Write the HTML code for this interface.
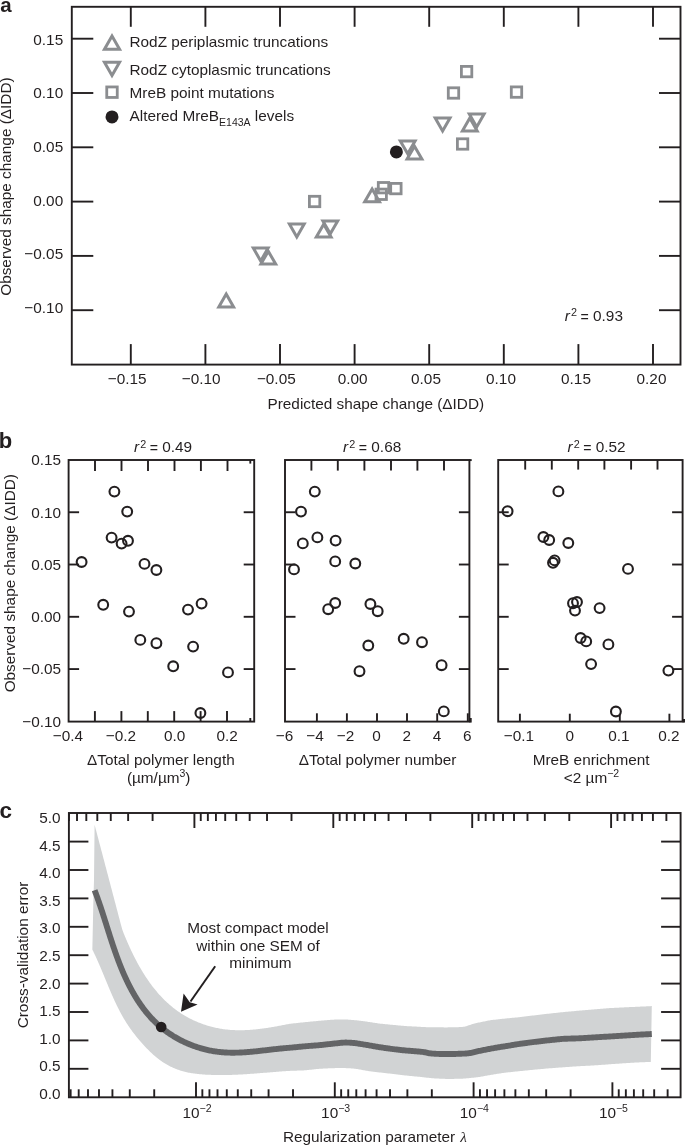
<!DOCTYPE html>
<html><head><meta charset="utf-8"><title>Figure</title>
<style>html,body{margin:0;padding:0;background:#fff;width:685px;height:1146px;overflow:hidden}svg{display:block}</style>
</head><body>
<svg width="685" height="1146" viewBox="0 0 685 1146" font-family="'Liberation Sans', Arial, Helvetica, sans-serif" fill="#231f20">
<text x="0.30" y="11.60" text-anchor="start" font-size="20.5" font-weight="bold">a</text>
<rect x="71.8" y="6.8" width="608.7" height="357.8" fill="none" stroke="#231f20" stroke-width="1.9"/>
<line x1="130.80" y1="364.60" x2="130.80" y2="344.10" stroke="#231f20" stroke-width="1.9"/>
<line x1="130.80" y1="6.80" x2="130.80" y2="26.80" stroke="#231f20" stroke-width="1.9"/>
<line x1="205.40" y1="364.60" x2="205.40" y2="344.10" stroke="#231f20" stroke-width="1.9"/>
<line x1="205.40" y1="6.80" x2="205.40" y2="26.80" stroke="#231f20" stroke-width="1.9"/>
<line x1="280.00" y1="364.60" x2="280.00" y2="344.10" stroke="#231f20" stroke-width="1.9"/>
<line x1="280.00" y1="6.80" x2="280.00" y2="26.80" stroke="#231f20" stroke-width="1.9"/>
<line x1="354.60" y1="364.60" x2="354.60" y2="344.10" stroke="#231f20" stroke-width="1.9"/>
<line x1="354.60" y1="6.80" x2="354.60" y2="26.80" stroke="#231f20" stroke-width="1.9"/>
<line x1="429.20" y1="364.60" x2="429.20" y2="344.10" stroke="#231f20" stroke-width="1.9"/>
<line x1="429.20" y1="6.80" x2="429.20" y2="26.80" stroke="#231f20" stroke-width="1.9"/>
<line x1="503.80" y1="364.60" x2="503.80" y2="344.10" stroke="#231f20" stroke-width="1.9"/>
<line x1="503.80" y1="6.80" x2="503.80" y2="26.80" stroke="#231f20" stroke-width="1.9"/>
<line x1="578.40" y1="364.60" x2="578.40" y2="344.10" stroke="#231f20" stroke-width="1.9"/>
<line x1="578.40" y1="6.80" x2="578.40" y2="26.80" stroke="#231f20" stroke-width="1.9"/>
<line x1="653.00" y1="364.60" x2="653.00" y2="344.10" stroke="#231f20" stroke-width="1.9"/>
<line x1="653.00" y1="6.80" x2="653.00" y2="26.80" stroke="#231f20" stroke-width="1.9"/>
<line x1="71.80" y1="38.70" x2="93.30" y2="38.70" stroke="#231f20" stroke-width="1.9"/>
<line x1="659.00" y1="38.70" x2="680.50" y2="38.70" stroke="#231f20" stroke-width="1.9"/>
<text x="63.20" y="44.60" text-anchor="end" font-size="15.35" >0.15</text>
<line x1="71.80" y1="93.00" x2="93.30" y2="93.00" stroke="#231f20" stroke-width="1.9"/>
<line x1="659.00" y1="93.00" x2="680.50" y2="93.00" stroke="#231f20" stroke-width="1.9"/>
<text x="63.20" y="98.20" text-anchor="end" font-size="15.35" >0.10</text>
<line x1="71.80" y1="147.30" x2="93.30" y2="147.30" stroke="#231f20" stroke-width="1.9"/>
<line x1="659.00" y1="147.30" x2="680.50" y2="147.30" stroke="#231f20" stroke-width="1.9"/>
<text x="63.20" y="151.90" text-anchor="end" font-size="15.35" >0.05</text>
<line x1="71.80" y1="201.60" x2="93.30" y2="201.60" stroke="#231f20" stroke-width="1.9"/>
<line x1="659.00" y1="201.60" x2="680.50" y2="201.60" stroke="#231f20" stroke-width="1.9"/>
<text x="63.20" y="205.60" text-anchor="end" font-size="15.35" >0.00</text>
<line x1="71.80" y1="255.90" x2="93.30" y2="255.90" stroke="#231f20" stroke-width="1.9"/>
<line x1="659.00" y1="255.90" x2="680.50" y2="255.90" stroke="#231f20" stroke-width="1.9"/>
<text x="63.20" y="259.20" text-anchor="end" font-size="15.35" >−0.05</text>
<line x1="71.80" y1="310.20" x2="93.30" y2="310.20" stroke="#231f20" stroke-width="1.9"/>
<line x1="659.00" y1="310.20" x2="680.50" y2="310.20" stroke="#231f20" stroke-width="1.9"/>
<text x="63.20" y="312.50" text-anchor="end" font-size="15.35" >−0.10</text>
<text x="127.20" y="383.60" text-anchor="middle" font-size="15.35" >−0.15</text>
<text x="201.20" y="383.60" text-anchor="middle" font-size="15.35" >−0.10</text>
<text x="276.30" y="383.60" text-anchor="middle" font-size="15.35" >−0.05</text>
<text x="352.70" y="383.60" text-anchor="middle" font-size="15.35" >0.00</text>
<text x="426.00" y="383.60" text-anchor="middle" font-size="15.35" >0.05</text>
<text x="501.00" y="383.60" text-anchor="middle" font-size="15.35" >0.10</text>
<text x="576.00" y="383.60" text-anchor="middle" font-size="15.35" >0.15</text>
<text x="651.50" y="383.60" text-anchor="middle" font-size="15.35" >0.20</text>
<text x="375.80" y="408.50" text-anchor="middle" font-size="15.35" >Predicted shape change (ΔIDD)</text>
<text transform="translate(11.3,186.6) rotate(-90)" text-anchor="middle" font-size="15.35">Observed shape change (ΔIDD)</text>
<text x="563.0" y="320.7" font-size="15.35"><tspan font-style="italic" dx="1.7">r</tspan><tspan font-size="10.8" dx="1.2" dy="-4.4">2</tspan><tspan dy="4.4"> </tspan><tspan font-size="14.2" dx="-0.8" dy="0.9">=</tspan><tspan dy="-0.9"> 0.93</tspan></text>
<rect x="309.40" y="196.30" width="10.40" height="10.40" fill="none" stroke="#8b8d90" stroke-width="2.8"/>
<rect x="378.30" y="182.50" width="10.40" height="10.40" fill="none" stroke="#8b8d90" stroke-width="2.8"/>
<rect x="390.70" y="183.40" width="10.40" height="10.40" fill="none" stroke="#8b8d90" stroke-width="2.8"/>
<rect x="376.00" y="189.10" width="10.40" height="10.40" fill="none" stroke="#8b8d90" stroke-width="2.8"/>
<rect x="457.40" y="138.80" width="10.40" height="10.40" fill="none" stroke="#8b8d90" stroke-width="2.8"/>
<rect x="448.30" y="87.80" width="10.40" height="10.40" fill="none" stroke="#8b8d90" stroke-width="2.8"/>
<rect x="461.40" y="66.40" width="10.40" height="10.40" fill="none" stroke="#8b8d90" stroke-width="2.8"/>
<rect x="511.30" y="86.90" width="10.40" height="10.40" fill="none" stroke="#8b8d90" stroke-width="2.8"/>
<polygon points="260.70,260.92 268.10,248.10 253.30,248.10" fill="none" stroke="#8b8d90" stroke-width="3.0" stroke-linejoin="miter" stroke-miterlimit="10"/>
<polygon points="296.80,236.92 304.20,224.10 289.40,224.10" fill="none" stroke="#8b8d90" stroke-width="3.0" stroke-linejoin="miter" stroke-miterlimit="10"/>
<polygon points="330.30,233.72 337.70,220.90 322.90,220.90" fill="none" stroke="#8b8d90" stroke-width="3.0" stroke-linejoin="miter" stroke-miterlimit="10"/>
<polygon points="407.70,153.72 415.10,140.90 400.30,140.90" fill="none" stroke="#8b8d90" stroke-width="3.0" stroke-linejoin="miter" stroke-miterlimit="10"/>
<polygon points="442.60,130.92 450.00,118.10 435.20,118.10" fill="none" stroke="#8b8d90" stroke-width="3.0" stroke-linejoin="miter" stroke-miterlimit="10"/>
<polygon points="476.70,126.92 484.10,114.10 469.30,114.10" fill="none" stroke="#8b8d90" stroke-width="3.0" stroke-linejoin="miter" stroke-miterlimit="10"/>
<polygon points="226.20,294.08 233.60,306.90 218.80,306.90" fill="none" stroke="#8b8d90" stroke-width="3.0" stroke-linejoin="miter" stroke-miterlimit="10"/>
<polygon points="268.30,251.28 275.70,264.10 260.90,264.10" fill="none" stroke="#8b8d90" stroke-width="3.0" stroke-linejoin="miter" stroke-miterlimit="10"/>
<polygon points="323.70,224.28 331.10,237.10 316.30,237.10" fill="none" stroke="#8b8d90" stroke-width="3.0" stroke-linejoin="miter" stroke-miterlimit="10"/>
<polygon points="372.10,188.88 379.50,201.70 364.70,201.70" fill="none" stroke="#8b8d90" stroke-width="3.0" stroke-linejoin="miter" stroke-miterlimit="10"/>
<polygon points="414.50,146.28 421.90,159.10 407.10,159.10" fill="none" stroke="#8b8d90" stroke-width="3.0" stroke-linejoin="miter" stroke-miterlimit="10"/>
<polygon points="469.80,118.08 477.20,130.90 462.40,130.90" fill="none" stroke="#8b8d90" stroke-width="3.0" stroke-linejoin="miter" stroke-miterlimit="10"/>
<circle cx="396.4" cy="151.9" r="6.5" fill="#231f20"/>
<polygon points="112.00,36.12 119.55,49.20 104.45,49.20" fill="none" stroke="#8b8d90" stroke-width="3.0" stroke-linejoin="miter" stroke-miterlimit="10"/>
<polygon points="112.00,75.38 119.55,62.30 104.45,62.30" fill="none" stroke="#8b8d90" stroke-width="3.0" stroke-linejoin="miter" stroke-miterlimit="10"/>
<rect x="106.75" y="86.95" width="10.50" height="10.50" fill="none" stroke="#8b8d90" stroke-width="2.8"/>
<circle cx="112" cy="116.9" r="6.5" fill="#231f20"/>
<text x="129.50" y="47.00" text-anchor="start" font-size="15.35" >RodZ periplasmic truncations</text>
<text x="129.50" y="75.00" text-anchor="start" font-size="15.35" >RodZ cytoplasmic truncations</text>
<text x="129.50" y="97.80" text-anchor="start" font-size="15.35" >MreB point mutations</text>
<text x="129.5" y="121.2" font-size="15.35">Altered MreB<tspan font-size="10.5" dy="4.5">E143A</tspan><tspan dy="-4.5"> levels</tspan></text>
<text x="-1.30" y="447.80" text-anchor="start" font-size="22" font-weight="bold">b</text>
<rect x="68.6" y="460.0" width="185.60" height="261.60" fill="none" stroke="#231f20" stroke-width="1.9"/>
<line x1="94.90" y1="721.60" x2="94.90" y2="711.10" stroke="#231f20" stroke-width="1.9"/>
<line x1="121.40" y1="721.60" x2="121.40" y2="711.10" stroke="#231f20" stroke-width="1.9"/>
<line x1="147.80" y1="721.60" x2="147.80" y2="711.10" stroke="#231f20" stroke-width="1.9"/>
<line x1="174.20" y1="721.60" x2="174.20" y2="711.10" stroke="#231f20" stroke-width="1.9"/>
<line x1="200.60" y1="721.60" x2="200.60" y2="711.10" stroke="#231f20" stroke-width="1.9"/>
<line x1="227.00" y1="721.60" x2="227.00" y2="711.10" stroke="#231f20" stroke-width="1.9"/>
<line x1="95.00" y1="460.00" x2="95.00" y2="471.00" stroke="#231f20" stroke-width="1.9"/>
<line x1="121.50" y1="460.00" x2="121.50" y2="471.00" stroke="#231f20" stroke-width="1.9"/>
<line x1="148.00" y1="460.00" x2="148.00" y2="471.00" stroke="#231f20" stroke-width="1.9"/>
<line x1="174.50" y1="460.00" x2="174.50" y2="471.00" stroke="#231f20" stroke-width="1.9"/>
<line x1="200.90" y1="460.00" x2="200.90" y2="471.00" stroke="#231f20" stroke-width="1.9"/>
<line x1="227.50" y1="460.00" x2="227.50" y2="471.00" stroke="#231f20" stroke-width="1.9"/>
<line x1="68.60" y1="512.24" x2="79.10" y2="512.24" stroke="#231f20" stroke-width="1.9"/>
<line x1="243.70" y1="512.24" x2="254.20" y2="512.24" stroke="#231f20" stroke-width="1.9"/>
<line x1="68.60" y1="564.52" x2="79.10" y2="564.52" stroke="#231f20" stroke-width="1.9"/>
<line x1="243.70" y1="564.52" x2="254.20" y2="564.52" stroke="#231f20" stroke-width="1.9"/>
<line x1="68.60" y1="616.80" x2="79.10" y2="616.80" stroke="#231f20" stroke-width="1.9"/>
<line x1="243.70" y1="616.80" x2="254.20" y2="616.80" stroke="#231f20" stroke-width="1.9"/>
<line x1="68.60" y1="669.08" x2="79.10" y2="669.08" stroke="#231f20" stroke-width="1.9"/>
<line x1="243.70" y1="669.08" x2="254.20" y2="669.08" stroke="#231f20" stroke-width="1.9"/>
<text x="68.00" y="741.00" text-anchor="middle" font-size="15.35" >−0.4</text>
<text x="121.00" y="741.00" text-anchor="middle" font-size="15.35" >−0.2</text>
<text x="174.60" y="741.00" text-anchor="middle" font-size="15.35" >0.0</text>
<text x="227.20" y="741.00" text-anchor="middle" font-size="15.35" >0.2</text>
<text x="161.3" y="452.0" text-anchor="middle" font-size="15.35"><tspan font-style="italic" dx="1.7">r</tspan><tspan font-size="10.8" dx="1.2" dy="-4.4">2</tspan><tspan dy="4.4"> </tspan><tspan font-size="14.2" dx="-0.8" dy="0.9">=</tspan><tspan dy="-0.9"> 0.49</tspan></text>
<text x="160.90" y="765.10" text-anchor="middle" font-size="15.35" >ΔTotal polymer length</text>
<text x="158.70" y="782.50" text-anchor="middle" font-size="15.35" >(µm/µm<tspan font-size='10.5' dy='-6'>3</tspan><tspan dy='6'>)</tspan></text>
<rect x="285.0" y="460.0" width="184.40" height="261.60" fill="none" stroke="#231f20" stroke-width="1.9"/>
<line x1="316.90" y1="721.60" x2="316.90" y2="713.30" stroke="#231f20" stroke-width="1.9"/>
<line x1="346.90" y1="721.60" x2="346.90" y2="713.30" stroke="#231f20" stroke-width="1.9"/>
<line x1="377.00" y1="721.60" x2="377.00" y2="713.30" stroke="#231f20" stroke-width="1.9"/>
<line x1="407.00" y1="721.60" x2="407.00" y2="713.30" stroke="#231f20" stroke-width="1.9"/>
<line x1="437.20" y1="721.60" x2="437.20" y2="713.30" stroke="#231f20" stroke-width="1.9"/>
<line x1="467.80" y1="721.60" x2="467.80" y2="713.30" stroke="#231f20" stroke-width="1.9"/>
<line x1="311.40" y1="460.00" x2="311.40" y2="470.60" stroke="#231f20" stroke-width="1.9"/>
<line x1="337.80" y1="460.00" x2="337.80" y2="470.60" stroke="#231f20" stroke-width="1.9"/>
<line x1="364.40" y1="460.00" x2="364.40" y2="470.60" stroke="#231f20" stroke-width="1.9"/>
<line x1="391.00" y1="460.00" x2="391.00" y2="470.60" stroke="#231f20" stroke-width="1.9"/>
<line x1="417.40" y1="460.00" x2="417.40" y2="470.60" stroke="#231f20" stroke-width="1.9"/>
<line x1="444.00" y1="460.00" x2="444.00" y2="470.60" stroke="#231f20" stroke-width="1.9"/>
<line x1="285.00" y1="512.24" x2="295.50" y2="512.24" stroke="#231f20" stroke-width="1.9"/>
<line x1="458.90" y1="512.24" x2="469.40" y2="512.24" stroke="#231f20" stroke-width="1.9"/>
<line x1="285.00" y1="564.52" x2="295.50" y2="564.52" stroke="#231f20" stroke-width="1.9"/>
<line x1="458.90" y1="564.52" x2="469.40" y2="564.52" stroke="#231f20" stroke-width="1.9"/>
<line x1="285.00" y1="616.80" x2="295.50" y2="616.80" stroke="#231f20" stroke-width="1.9"/>
<line x1="458.90" y1="616.80" x2="469.40" y2="616.80" stroke="#231f20" stroke-width="1.9"/>
<line x1="285.00" y1="669.08" x2="295.50" y2="669.08" stroke="#231f20" stroke-width="1.9"/>
<line x1="458.90" y1="669.08" x2="469.40" y2="669.08" stroke="#231f20" stroke-width="1.9"/>
<text x="284.50" y="741.00" text-anchor="middle" font-size="15.35" >−6</text>
<text x="315.00" y="741.00" text-anchor="middle" font-size="15.35" >−4</text>
<text x="345.50" y="741.00" text-anchor="middle" font-size="15.35" >−2</text>
<text x="376.50" y="741.00" text-anchor="middle" font-size="15.35" >0</text>
<text x="406.80" y="741.00" text-anchor="middle" font-size="15.35" >2</text>
<text x="437.00" y="741.00" text-anchor="middle" font-size="15.35" >4</text>
<text x="467.20" y="741.00" text-anchor="middle" font-size="15.35" >6</text>
<text x="370.4" y="452.0" text-anchor="middle" font-size="15.35"><tspan font-style="italic" dx="1.7">r</tspan><tspan font-size="10.8" dx="1.2" dy="-4.4">2</tspan><tspan dy="4.4"> </tspan><tspan font-size="14.2" dx="-0.8" dy="0.9">=</tspan><tspan dy="-0.9"> 0.68</tspan></text>
<text x="377.60" y="765.10" text-anchor="middle" font-size="15.35" >ΔTotal polymer number</text>
<rect x="498.2" y="460.0" width="184.40" height="261.60" fill="none" stroke="#231f20" stroke-width="1.9"/>
<line x1="519.90" y1="721.60" x2="519.90" y2="713.70" stroke="#231f20" stroke-width="1.9"/>
<line x1="569.80" y1="721.60" x2="569.80" y2="713.70" stroke="#231f20" stroke-width="1.9"/>
<line x1="619.80" y1="721.60" x2="619.80" y2="713.70" stroke="#231f20" stroke-width="1.9"/>
<line x1="669.40" y1="721.60" x2="669.40" y2="713.70" stroke="#231f20" stroke-width="1.9"/>
<line x1="525.20" y1="460.00" x2="525.20" y2="469.60" stroke="#231f20" stroke-width="1.9"/>
<line x1="551.80" y1="460.00" x2="551.80" y2="469.60" stroke="#231f20" stroke-width="1.9"/>
<line x1="578.20" y1="460.00" x2="578.20" y2="469.60" stroke="#231f20" stroke-width="1.9"/>
<line x1="604.40" y1="460.00" x2="604.40" y2="469.60" stroke="#231f20" stroke-width="1.9"/>
<line x1="631.10" y1="460.00" x2="631.10" y2="469.60" stroke="#231f20" stroke-width="1.9"/>
<line x1="657.50" y1="460.00" x2="657.50" y2="469.60" stroke="#231f20" stroke-width="1.9"/>
<line x1="498.20" y1="512.24" x2="508.70" y2="512.24" stroke="#231f20" stroke-width="1.9"/>
<line x1="672.10" y1="512.24" x2="682.60" y2="512.24" stroke="#231f20" stroke-width="1.9"/>
<line x1="498.20" y1="564.52" x2="508.70" y2="564.52" stroke="#231f20" stroke-width="1.9"/>
<line x1="672.10" y1="564.52" x2="682.60" y2="564.52" stroke="#231f20" stroke-width="1.9"/>
<line x1="498.20" y1="616.80" x2="508.70" y2="616.80" stroke="#231f20" stroke-width="1.9"/>
<line x1="672.10" y1="616.80" x2="682.60" y2="616.80" stroke="#231f20" stroke-width="1.9"/>
<line x1="498.20" y1="669.08" x2="508.70" y2="669.08" stroke="#231f20" stroke-width="1.9"/>
<line x1="672.10" y1="669.08" x2="682.60" y2="669.08" stroke="#231f20" stroke-width="1.9"/>
<text x="519.00" y="741.00" text-anchor="middle" font-size="15.35" >−0.1</text>
<text x="569.70" y="741.00" text-anchor="middle" font-size="15.35" >0</text>
<text x="618.90" y="741.00" text-anchor="middle" font-size="15.35" >0.1</text>
<text x="669.00" y="741.00" text-anchor="middle" font-size="15.35" >0.2</text>
<text x="594.8" y="452.0" text-anchor="middle" font-size="15.35"><tspan font-style="italic" dx="1.7">r</tspan><tspan font-size="10.8" dx="1.2" dy="-4.4">2</tspan><tspan dy="4.4"> </tspan><tspan font-size="14.2" dx="-0.8" dy="0.9">=</tspan><tspan dy="-0.9"> 0.52</tspan></text>
<text x="591.10" y="764.70" text-anchor="middle" font-size="15.35" >MreB enrichment</text>
<text x="591.50" y="783.30" text-anchor="middle" font-size="15.35" >&lt;2 µm<tspan font-size='10.5' dy='-6'>−2</tspan></text>
<text x="61.00" y="465.36" text-anchor="end" font-size="15.35" >0.15</text>
<text x="61.00" y="517.64" text-anchor="end" font-size="15.35" >0.10</text>
<text x="61.00" y="569.92" text-anchor="end" font-size="15.35" >0.05</text>
<text x="61.00" y="622.20" text-anchor="end" font-size="15.35" >0.00</text>
<text x="61.00" y="674.48" text-anchor="end" font-size="15.35" >−0.05</text>
<text x="61.00" y="726.76" text-anchor="end" font-size="15.35" >−0.10</text>
<line x1="250.30" y1="460.00" x2="250.30" y2="463.60" stroke="#231f20" stroke-width="1.9"/>
<line x1="250.30" y1="721.60" x2="250.30" y2="718.00" stroke="#231f20" stroke-width="1.9"/>
<rect x="469.4" y="459.15" width="2.3" height="1.9" fill="#231f20"/>
<rect x="469.4" y="718.0" width="2.3" height="4.55" fill="#231f20"/>
<rect x="682.6" y="719.0" width="2.4" height="3.55" fill="#231f20"/>
<text transform="translate(15.4,583.2) rotate(-90)" text-anchor="middle" font-size="15.35">Observed shape change (ΔIDD)</text>
<circle cx="114.4" cy="491.6" r="4.9" fill="none" stroke="#231f20" stroke-width="2.1"/>
<circle cx="127.2" cy="511.6" r="4.9" fill="none" stroke="#231f20" stroke-width="2.1"/>
<circle cx="111.6" cy="537.6" r="4.9" fill="none" stroke="#231f20" stroke-width="2.1"/>
<circle cx="121.6" cy="543.6" r="4.9" fill="none" stroke="#231f20" stroke-width="2.1"/>
<circle cx="128" cy="540.8" r="4.9" fill="none" stroke="#231f20" stroke-width="2.1"/>
<circle cx="81.6" cy="562" r="4.9" fill="none" stroke="#231f20" stroke-width="2.1"/>
<circle cx="144.5" cy="563.9" r="4.9" fill="none" stroke="#231f20" stroke-width="2.1"/>
<circle cx="156.4" cy="570" r="4.9" fill="none" stroke="#231f20" stroke-width="2.1"/>
<circle cx="103.2" cy="604.8" r="4.9" fill="none" stroke="#231f20" stroke-width="2.1"/>
<circle cx="129" cy="611.6" r="4.9" fill="none" stroke="#231f20" stroke-width="2.1"/>
<circle cx="188" cy="609.6" r="4.9" fill="none" stroke="#231f20" stroke-width="2.1"/>
<circle cx="201.6" cy="603.6" r="4.9" fill="none" stroke="#231f20" stroke-width="2.1"/>
<circle cx="140.3" cy="639.9" r="4.9" fill="none" stroke="#231f20" stroke-width="2.1"/>
<circle cx="156.4" cy="643.2" r="4.9" fill="none" stroke="#231f20" stroke-width="2.1"/>
<circle cx="193.1" cy="646.6" r="4.9" fill="none" stroke="#231f20" stroke-width="2.1"/>
<circle cx="173.2" cy="666.3" r="4.9" fill="none" stroke="#231f20" stroke-width="2.1"/>
<circle cx="228" cy="672.4" r="4.9" fill="none" stroke="#231f20" stroke-width="2.1"/>
<circle cx="200.4" cy="713" r="4.9" fill="none" stroke="#231f20" stroke-width="2.1"/>
<circle cx="314.8" cy="491.6" r="4.9" fill="none" stroke="#231f20" stroke-width="2.1"/>
<circle cx="301" cy="511.6" r="4.9" fill="none" stroke="#231f20" stroke-width="2.1"/>
<circle cx="302.8" cy="543.4" r="4.9" fill="none" stroke="#231f20" stroke-width="2.1"/>
<circle cx="317.4" cy="537.4" r="4.9" fill="none" stroke="#231f20" stroke-width="2.1"/>
<circle cx="335.6" cy="540.6" r="4.9" fill="none" stroke="#231f20" stroke-width="2.1"/>
<circle cx="335.2" cy="561.4" r="4.9" fill="none" stroke="#231f20" stroke-width="2.1"/>
<circle cx="355.3" cy="563.5" r="4.9" fill="none" stroke="#231f20" stroke-width="2.1"/>
<circle cx="294" cy="569.4" r="4.9" fill="none" stroke="#231f20" stroke-width="2.1"/>
<circle cx="335.2" cy="603" r="4.9" fill="none" stroke="#231f20" stroke-width="2.1"/>
<circle cx="328.2" cy="609.2" r="4.9" fill="none" stroke="#231f20" stroke-width="2.1"/>
<circle cx="370.4" cy="604" r="4.9" fill="none" stroke="#231f20" stroke-width="2.1"/>
<circle cx="377.7" cy="611.2" r="4.9" fill="none" stroke="#231f20" stroke-width="2.1"/>
<circle cx="403.7" cy="638.8" r="4.9" fill="none" stroke="#231f20" stroke-width="2.1"/>
<circle cx="368.3" cy="645.5" r="4.9" fill="none" stroke="#231f20" stroke-width="2.1"/>
<circle cx="359.5" cy="671.2" r="4.9" fill="none" stroke="#231f20" stroke-width="2.1"/>
<circle cx="422" cy="642.2" r="4.9" fill="none" stroke="#231f20" stroke-width="2.1"/>
<circle cx="441.6" cy="665.2" r="4.9" fill="none" stroke="#231f20" stroke-width="2.1"/>
<circle cx="443.8" cy="711.4" r="4.9" fill="none" stroke="#231f20" stroke-width="2.1"/>
<circle cx="558.4" cy="491.4" r="4.9" fill="none" stroke="#231f20" stroke-width="2.1"/>
<circle cx="507.6" cy="511.2" r="4.9" fill="none" stroke="#231f20" stroke-width="2.1"/>
<circle cx="543.4" cy="537" r="4.9" fill="none" stroke="#231f20" stroke-width="2.1"/>
<circle cx="549.2" cy="540" r="4.9" fill="none" stroke="#231f20" stroke-width="2.1"/>
<circle cx="568.3" cy="543" r="4.9" fill="none" stroke="#231f20" stroke-width="2.1"/>
<circle cx="554.6" cy="560.4" r="4.9" fill="none" stroke="#231f20" stroke-width="2.1"/>
<circle cx="553" cy="562.8" r="4.9" fill="none" stroke="#231f20" stroke-width="2.1"/>
<circle cx="628" cy="568.9" r="4.9" fill="none" stroke="#231f20" stroke-width="2.1"/>
<circle cx="573" cy="603.2" r="4.9" fill="none" stroke="#231f20" stroke-width="2.1"/>
<circle cx="577" cy="602" r="4.9" fill="none" stroke="#231f20" stroke-width="2.1"/>
<circle cx="575" cy="610.6" r="4.9" fill="none" stroke="#231f20" stroke-width="2.1"/>
<circle cx="599.6" cy="608.1" r="4.9" fill="none" stroke="#231f20" stroke-width="2.1"/>
<circle cx="580.6" cy="638" r="4.9" fill="none" stroke="#231f20" stroke-width="2.1"/>
<circle cx="586.2" cy="641.4" r="4.9" fill="none" stroke="#231f20" stroke-width="2.1"/>
<circle cx="608.4" cy="644.4" r="4.9" fill="none" stroke="#231f20" stroke-width="2.1"/>
<circle cx="591.1" cy="664.1" r="4.9" fill="none" stroke="#231f20" stroke-width="2.1"/>
<circle cx="668.4" cy="670.6" r="4.9" fill="none" stroke="#231f20" stroke-width="2.1"/>
<circle cx="615.9" cy="711.5" r="4.9" fill="none" stroke="#231f20" stroke-width="2.1"/>
<text x="-0.60" y="817.80" text-anchor="start" font-size="22.5" font-weight="bold">c</text>
<path d="M94.60,824.80 L94.86,825.77 L95.11,826.73 L95.37,827.70 L95.62,828.67 L95.88,829.63 L96.13,830.60 L96.39,831.57 L96.64,832.54 L96.90,833.50 L97.15,834.47 L97.41,835.44 L97.66,836.40 L97.92,837.37 L98.17,838.34 L98.43,839.30 L98.68,840.27 L98.94,841.24 L99.19,842.20 L99.45,843.17 L99.70,844.14 L99.96,845.11 L100.21,846.07 L100.47,847.04 L100.72,848.01 L100.98,848.97 L101.23,849.94 L101.49,850.91 L101.74,851.87 L102.00,852.84 L102.25,853.81 L102.51,854.78 L102.76,855.74 L103.02,856.71 L103.27,857.68 L103.53,858.64 L103.78,859.61 L104.04,860.58 L104.29,861.54 L104.55,862.51 L104.80,863.48 L105.06,864.44 L105.31,865.41 L105.57,866.38 L105.82,867.35 L106.08,868.31 L106.33,869.28 L106.59,870.25 L106.84,871.21 L107.10,872.18 L107.35,873.15 L107.61,874.11 L107.86,875.08 L108.12,876.05 L108.37,877.01 L108.63,877.98 L108.88,878.95 L109.14,879.92 L109.39,880.88 L109.65,881.85 L109.90,882.82 L110.16,883.78 L110.41,884.75 L110.67,885.72 L110.92,886.68 L111.18,887.65 L111.43,888.62 L111.69,889.59 L111.94,890.55 L112.20,891.52 L112.45,892.49 L112.71,893.45 L112.96,894.42 L113.22,895.39 L113.47,896.35 L113.73,897.32 L113.98,898.29 L114.24,899.25 L114.49,900.22 L114.75,901.19 L115.00,902.16 L115.26,903.12 L115.51,904.09 L115.77,905.06 L116.02,906.02 L116.28,906.99 L116.53,907.96 L116.79,908.92 L117.04,909.89 L117.30,910.86 L117.55,911.82 L117.81,912.79 L118.06,913.76 L118.32,914.73 L118.57,915.69 L118.83,916.66 L119.08,917.63 L119.34,918.59 L119.59,919.56 L119.85,920.53 L120.10,921.49 L120.36,922.46 L120.61,923.43 L120.87,924.39 L121.12,925.36 L121.38,926.33 L121.65,927.29 L121.92,928.25 L122.21,929.21 L122.52,930.16 L122.85,931.10 L123.19,932.04 L123.55,932.97 L123.92,933.90 L124.29,934.83 L124.67,935.75 L125.05,936.67 L125.44,937.60 L125.82,938.52 L126.22,939.44 L126.61,940.36 L127.00,941.28 L127.40,942.19 L127.80,943.11 L128.21,944.02 L128.62,944.94 L129.03,945.85 L129.44,946.76 L129.85,947.67 L130.27,948.58 L130.70,949.48 L131.12,950.39 L131.55,951.29 L131.98,952.20 L132.42,953.10 L132.85,953.99 L133.30,954.89 L133.74,955.79 L134.19,956.68 L134.64,957.57 L135.10,958.46 L135.56,959.35 L136.02,960.24 L136.49,961.12 L136.96,962.00 L137.44,962.88 L137.92,963.76 L138.40,964.63 L138.89,965.51 L139.38,966.38 L139.87,967.25 L140.37,968.11 L140.88,968.98 L141.38,969.84 L141.90,970.70 L142.41,971.55 L142.94,972.41 L143.46,973.26 L143.99,974.10 L144.53,974.95 L145.07,975.79 L145.61,976.63 L146.16,977.46 L146.72,978.30 L147.28,979.12 L147.84,979.95 L148.41,980.77 L148.98,981.59 L149.56,982.41 L150.15,983.22 L150.74,984.02 L151.33,984.83 L151.93,985.63 L152.54,986.42 L153.15,987.21 L153.77,988.00 L154.39,988.78 L155.02,989.56 L155.65,990.34 L156.29,991.10 L156.93,991.87 L157.58,992.63 L158.24,993.38 L158.90,994.13 L159.57,994.88 L160.24,995.62 L160.92,996.35 L161.61,997.08 L162.30,997.80 L162.99,998.52 L163.70,999.23 L164.41,999.93 L165.12,1000.63 L165.84,1001.32 L166.57,1002.01 L167.30,1002.69 L168.04,1003.36 L168.79,1004.03 L169.54,1004.69 L170.30,1005.34 L171.06,1005.99 L171.83,1006.62 L172.60,1007.26 L173.39,1007.88 L174.17,1008.49 L174.97,1009.10 L175.77,1009.70 L176.57,1010.30 L177.38,1010.88 L178.20,1011.46 L179.02,1012.02 L179.85,1012.58 L180.68,1013.13 L181.52,1013.68 L182.37,1014.21 L183.22,1014.74 L184.07,1015.26 L184.93,1015.76 L185.80,1016.27 L186.67,1016.76 L187.54,1017.24 L188.42,1017.72 L189.31,1018.18 L190.20,1018.64 L191.09,1019.09 L191.99,1019.53 L192.89,1019.96 L193.79,1020.39 L194.70,1020.80 L195.62,1021.21 L196.53,1021.61 L197.45,1022.00 L198.38,1022.38 L199.31,1022.75 L200.24,1023.11 L201.17,1023.47 L202.11,1023.81 L203.05,1024.15 L204.00,1024.48 L204.94,1024.80 L205.89,1025.11 L206.85,1025.41 L207.80,1025.70 L208.76,1025.98 L209.72,1026.26 L210.69,1026.52 L211.65,1026.78 L212.62,1027.03 L213.59,1027.27 L214.57,1027.49 L215.54,1027.71 L216.52,1027.92 L217.50,1028.12 L218.48,1028.32 L219.46,1028.50 L220.45,1028.67 L221.43,1028.83 L222.42,1028.99 L223.41,1029.13 L224.40,1029.26 L225.39,1029.39 L226.39,1029.50 L227.38,1029.61 L228.38,1029.71 L229.37,1029.80 L230.37,1029.88 L231.36,1029.95 L232.36,1030.01 L233.36,1030.06 L234.36,1030.11 L235.36,1030.15 L236.36,1030.17 L237.36,1030.20 L238.36,1030.21 L239.36,1030.22 L240.36,1030.21 L241.36,1030.21 L242.36,1030.19 L243.36,1030.17 L244.36,1030.14 L245.35,1030.10 L246.35,1030.06 L247.35,1030.01 L248.35,1029.95 L249.35,1029.89 L250.35,1029.82 L251.34,1029.75 L252.34,1029.67 L253.34,1029.58 L254.33,1029.49 L255.33,1029.40 L256.32,1029.30 L257.32,1029.19 L258.31,1029.08 L259.30,1028.96 L260.30,1028.84 L261.29,1028.72 L262.28,1028.59 L263.27,1028.46 L264.26,1028.32 L265.25,1028.18 L266.24,1028.03 L267.23,1027.89 L268.22,1027.73 L269.21,1027.58 L270.19,1027.42 L271.18,1027.26 L272.17,1027.09 L273.15,1026.93 L274.14,1026.76 L275.12,1026.58 L276.11,1026.41 L277.09,1026.23 L278.07,1026.05 L279.06,1025.87 L280.04,1025.68 L281.02,1025.50 L282.01,1025.31 L282.99,1025.12 L283.97,1024.93 L284.95,1024.74 L285.93,1024.55 L286.92,1024.36 L287.90,1024.18 L288.88,1024.01 L289.87,1023.85 L290.86,1023.71 L291.85,1023.58 L292.84,1023.46 L293.83,1023.34 L294.83,1023.24 L295.82,1023.13 L296.82,1023.02 L297.81,1022.92 L298.80,1022.81 L299.80,1022.71 L300.79,1022.60 L301.79,1022.50 L302.78,1022.40 L303.78,1022.29 L304.77,1022.19 L305.77,1022.09 L306.76,1022.00 L307.76,1021.90 L308.75,1021.80 L309.75,1021.71 L310.74,1021.61 L311.74,1021.52 L312.73,1021.42 L313.73,1021.32 L314.73,1021.23 L315.72,1021.13 L316.72,1021.04 L317.71,1020.95 L318.71,1020.86 L319.70,1020.77 L320.70,1020.68 L321.70,1020.60 L322.69,1020.51 L323.69,1020.43 L324.69,1020.35 L325.68,1020.27 L326.68,1020.19 L327.68,1020.10 L328.67,1020.02 L329.67,1019.94 L330.67,1019.86 L331.66,1019.79 L332.66,1019.72 L333.66,1019.66 L334.66,1019.61 L335.66,1019.57 L336.66,1019.53 L337.65,1019.50 L338.65,1019.47 L339.65,1019.45 L340.65,1019.42 L341.65,1019.40 L342.65,1019.39 L343.65,1019.39 L344.65,1019.40 L345.65,1019.44 L346.64,1019.49 L347.64,1019.55 L348.64,1019.63 L349.63,1019.71 L350.63,1019.80 L351.63,1019.88 L352.62,1019.97 L353.62,1020.06 L354.61,1020.15 L355.61,1020.24 L356.61,1020.33 L357.60,1020.42 L358.60,1020.53 L359.59,1020.64 L360.58,1020.76 L361.57,1020.89 L362.56,1021.03 L363.55,1021.17 L364.54,1021.32 L365.53,1021.47 L366.52,1021.62 L367.51,1021.77 L368.50,1021.92 L369.48,1022.07 L370.47,1022.22 L371.46,1022.37 L372.45,1022.52 L373.44,1022.67 L374.43,1022.82 L375.42,1022.96 L376.41,1023.11 L377.40,1023.25 L378.39,1023.39 L379.38,1023.52 L380.37,1023.64 L381.36,1023.75 L382.36,1023.86 L383.35,1023.96 L384.35,1024.06 L385.34,1024.16 L386.34,1024.25 L387.33,1024.35 L388.33,1024.44 L389.32,1024.54 L390.32,1024.64 L391.31,1024.73 L392.31,1024.83 L393.30,1024.93 L394.30,1025.02 L395.30,1025.12 L396.29,1025.22 L397.29,1025.31 L398.28,1025.41 L399.28,1025.50 L400.27,1025.60 L401.27,1025.69 L402.26,1025.78 L403.26,1025.87 L404.26,1025.94 L405.25,1026.02 L406.25,1026.08 L407.25,1026.14 L408.25,1026.20 L409.25,1026.25 L410.25,1026.30 L411.24,1026.36 L412.24,1026.41 L413.24,1026.46 L414.24,1026.51 L415.24,1026.57 L416.24,1026.62 L417.24,1026.67 L418.23,1026.72 L419.23,1026.77 L420.23,1026.83 L421.23,1026.88 L422.23,1026.93 L423.23,1026.98 L424.23,1027.03 L425.22,1027.08 L426.22,1027.13 L427.22,1027.18 L428.22,1027.22 L429.22,1027.25 L430.22,1027.28 L431.22,1027.30 L432.22,1027.31 L433.22,1027.32 L434.22,1027.32 L435.22,1027.33 L436.22,1027.34 L437.22,1027.34 L438.22,1027.35 L439.22,1027.35 L440.22,1027.36 L441.22,1027.36 L442.22,1027.37 L443.22,1027.37 L444.22,1027.38 L445.22,1027.38 L446.22,1027.38 L447.22,1027.38 L448.22,1027.37 L449.22,1027.36 L450.22,1027.34 L451.22,1027.32 L452.22,1027.30 L453.22,1027.28 L454.22,1027.25 L455.22,1027.23 L456.22,1027.20 L457.22,1027.17 L458.22,1027.15 L459.21,1027.11 L460.21,1027.08 L461.21,1027.02 L462.20,1026.94 L463.18,1026.82 L464.15,1026.66 L465.12,1026.45 L466.08,1026.20 L467.03,1025.92 L467.98,1025.62 L468.93,1025.30 L469.88,1024.99 L470.83,1024.67 L471.78,1024.36 L472.73,1024.07 L473.69,1023.79 L474.65,1023.52 L475.62,1023.28 L476.59,1023.05 L477.57,1022.83 L478.54,1022.62 L479.52,1022.41 L480.50,1022.21 L481.48,1022.00 L482.46,1021.79 L483.44,1021.59 L484.41,1021.38 L485.39,1021.18 L486.37,1020.97 L487.35,1020.78 L488.33,1020.59 L489.32,1020.41 L490.30,1020.25 L491.29,1020.11 L492.28,1019.97 L493.27,1019.85 L494.27,1019.74 L495.26,1019.63 L496.25,1019.52 L497.25,1019.41 L498.24,1019.30 L499.24,1019.19 L500.23,1019.08 L501.22,1018.97 L502.22,1018.86 L503.21,1018.76 L504.21,1018.65 L505.20,1018.55 L506.20,1018.45 L507.19,1018.35 L508.19,1018.26 L509.18,1018.16 L510.18,1018.07 L511.17,1017.97 L512.17,1017.87 L513.16,1017.78 L514.16,1017.68 L515.16,1017.59 L516.15,1017.49 L517.15,1017.39 L518.14,1017.29 L519.13,1017.18 L520.13,1017.07 L521.12,1016.95 L522.11,1016.84 L523.11,1016.72 L524.10,1016.60 L525.09,1016.47 L526.08,1016.35 L527.08,1016.23 L528.07,1016.11 L529.06,1015.98 L530.05,1015.86 L531.05,1015.74 L532.04,1015.62 L533.03,1015.50 L534.03,1015.38 L535.02,1015.26 L536.01,1015.14 L537.00,1015.03 L538.00,1014.91 L538.99,1014.80 L539.98,1014.68 L540.98,1014.56 L541.97,1014.45 L542.96,1014.33 L543.96,1014.22 L544.95,1014.10 L545.94,1013.99 L546.94,1013.87 L547.93,1013.76 L548.93,1013.65 L549.92,1013.54 L550.91,1013.43 L551.91,1013.32 L552.90,1013.21 L553.89,1013.10 L554.89,1012.99 L555.88,1012.88 L556.88,1012.77 L557.87,1012.66 L558.87,1012.55 L559.86,1012.45 L560.85,1012.34 L561.85,1012.24 L562.84,1012.14 L563.84,1012.04 L564.83,1011.94 L565.83,1011.85 L566.83,1011.76 L567.82,1011.67 L568.82,1011.58 L569.81,1011.49 L570.81,1011.40 L571.81,1011.32 L572.80,1011.23 L573.80,1011.14 L574.79,1011.05 L575.79,1010.96 L576.79,1010.87 L577.78,1010.78 L578.78,1010.70 L579.77,1010.61 L580.77,1010.52 L581.77,1010.43 L582.76,1010.34 L583.76,1010.26 L584.75,1010.17 L585.75,1010.08 L586.75,1009.99 L587.74,1009.91 L588.74,1009.82 L589.74,1009.73 L590.73,1009.64 L591.73,1009.55 L592.72,1009.47 L593.72,1009.38 L594.72,1009.30 L595.71,1009.21 L596.71,1009.13 L597.71,1009.05 L598.70,1008.96 L599.70,1008.88 L600.70,1008.80 L601.69,1008.72 L602.69,1008.64 L603.69,1008.55 L604.68,1008.47 L605.68,1008.39 L606.68,1008.31 L607.67,1008.24 L608.67,1008.17 L609.67,1008.10 L610.67,1008.04 L611.66,1007.99 L612.66,1007.94 L613.66,1007.89 L614.66,1007.84 L615.66,1007.79 L616.66,1007.74 L617.66,1007.69 L618.66,1007.65 L619.66,1007.60 L620.65,1007.55 L621.65,1007.50 L622.65,1007.46 L623.65,1007.41 L624.65,1007.36 L625.65,1007.31 L626.65,1007.26 L627.65,1007.22 L628.64,1007.17 L629.64,1007.12 L630.64,1007.07 L631.64,1007.02 L632.64,1006.98 L633.64,1006.93 L634.64,1006.88 L635.64,1006.83 L636.64,1006.79 L637.63,1006.74 L638.63,1006.69 L639.63,1006.65 L640.63,1006.60 L641.63,1006.56 L642.63,1006.51 L643.63,1006.47 L644.63,1006.42 L645.62,1006.38 L646.62,1006.33 L647.60,1006.29 L648.57,1006.24 L649.52,1006.20 L650.45,1006.16 L651.35,1006.12 L651.80,1006.10 L650.80,1061.90 L650.80,1061.90 L649.80,1061.94 L648.80,1061.98 L647.81,1062.02 L646.81,1062.06 L645.81,1062.10 L644.81,1062.14 L643.81,1062.18 L642.81,1062.22 L641.81,1062.26 L640.81,1062.31 L639.81,1062.35 L638.82,1062.40 L637.82,1062.45 L636.82,1062.51 L635.82,1062.56 L634.82,1062.62 L633.82,1062.68 L632.83,1062.74 L631.83,1062.81 L630.83,1062.87 L629.83,1062.93 L628.83,1062.99 L627.83,1063.05 L626.84,1063.11 L625.84,1063.18 L624.84,1063.24 L623.84,1063.30 L622.84,1063.37 L621.85,1063.44 L620.85,1063.50 L619.85,1063.57 L618.85,1063.64 L617.86,1063.71 L616.86,1063.78 L615.86,1063.84 L614.86,1063.91 L613.87,1063.98 L612.87,1064.05 L611.87,1064.12 L610.87,1064.19 L609.88,1064.26 L608.88,1064.33 L607.88,1064.40 L606.88,1064.48 L605.89,1064.55 L604.89,1064.63 L603.89,1064.70 L602.89,1064.78 L601.90,1064.85 L600.90,1064.93 L599.90,1065.00 L598.91,1065.07 L597.91,1065.15 L596.91,1065.22 L595.91,1065.29 L594.92,1065.36 L593.92,1065.42 L592.92,1065.48 L591.92,1065.54 L590.92,1065.59 L589.92,1065.65 L588.93,1065.70 L587.93,1065.75 L586.93,1065.81 L585.93,1065.86 L584.93,1065.91 L583.93,1065.96 L582.93,1066.02 L581.94,1066.07 L580.94,1066.12 L579.94,1066.18 L578.94,1066.24 L577.94,1066.29 L576.94,1066.36 L575.95,1066.42 L574.95,1066.48 L573.95,1066.55 L572.95,1066.62 L571.95,1066.69 L570.96,1066.76 L569.96,1066.82 L568.96,1066.89 L567.96,1066.96 L566.97,1067.03 L565.97,1067.10 L564.97,1067.17 L563.97,1067.24 L562.98,1067.31 L561.98,1067.38 L560.98,1067.45 L559.98,1067.53 L558.99,1067.60 L557.99,1067.68 L556.99,1067.75 L556.00,1067.83 L555.00,1067.90 L554.00,1067.98 L553.00,1068.05 L552.01,1068.13 L551.01,1068.21 L550.01,1068.28 L549.02,1068.36 L548.02,1068.45 L547.02,1068.53 L546.03,1068.61 L545.03,1068.70 L544.03,1068.79 L543.04,1068.88 L542.04,1068.97 L541.05,1069.05 L540.05,1069.14 L539.05,1069.23 L538.06,1069.32 L537.06,1069.41 L536.07,1069.50 L535.07,1069.59 L534.08,1069.69 L533.08,1069.78 L532.08,1069.88 L531.09,1069.98 L530.09,1070.08 L529.10,1070.18 L528.10,1070.29 L527.11,1070.39 L526.12,1070.49 L525.12,1070.59 L524.13,1070.69 L523.13,1070.80 L522.14,1070.90 L521.14,1071.00 L520.15,1071.10 L519.15,1071.20 L518.16,1071.31 L517.16,1071.41 L516.17,1071.51 L515.17,1071.61 L514.18,1071.72 L513.18,1071.82 L512.19,1071.92 L511.19,1072.02 L510.20,1072.13 L509.20,1072.23 L508.21,1072.33 L507.22,1072.44 L506.22,1072.55 L505.23,1072.67 L504.24,1072.80 L503.25,1072.94 L502.26,1073.08 L501.27,1073.23 L500.28,1073.38 L499.29,1073.54 L498.31,1073.69 L497.32,1073.85 L496.33,1074.00 L495.34,1074.16 L494.36,1074.31 L493.37,1074.47 L492.38,1074.63 L491.39,1074.79 L490.41,1074.96 L489.42,1075.13 L488.44,1075.30 L487.45,1075.48 L486.47,1075.66 L485.49,1075.84 L484.50,1076.02 L483.52,1076.20 L482.54,1076.38 L481.55,1076.56 L480.57,1076.74 L479.58,1076.91 L478.60,1077.06 L477.61,1077.21 L476.62,1077.34 L475.63,1077.46 L474.63,1077.57 L473.64,1077.67 L472.64,1077.77 L471.65,1077.87 L470.65,1077.97 L469.66,1078.06 L468.66,1078.16 L467.67,1078.25 L466.67,1078.34 L465.67,1078.43 L464.68,1078.51 L463.68,1078.58 L462.68,1078.64 L461.69,1078.69 L460.69,1078.73 L459.69,1078.76 L458.69,1078.79 L457.69,1078.81 L456.69,1078.83 L455.69,1078.85 L454.69,1078.87 L453.69,1078.89 L452.69,1078.91 L451.69,1078.93 L450.69,1078.94 L449.69,1078.94 L448.69,1078.94 L447.69,1078.93 L446.69,1078.91 L445.69,1078.88 L444.69,1078.84 L443.69,1078.80 L442.70,1078.76 L441.70,1078.72 L440.70,1078.68 L439.70,1078.64 L438.70,1078.60 L437.70,1078.56 L436.70,1078.51 L435.70,1078.46 L434.70,1078.40 L433.71,1078.32 L432.71,1078.24 L431.72,1078.15 L430.72,1078.05 L429.73,1077.95 L428.73,1077.84 L427.74,1077.74 L426.74,1077.63 L425.75,1077.52 L424.76,1077.41 L423.76,1077.30 L422.77,1077.19 L421.77,1077.08 L420.78,1076.98 L419.79,1076.87 L418.79,1076.77 L417.80,1076.67 L416.80,1076.57 L415.81,1076.48 L414.81,1076.38 L413.81,1076.28 L412.82,1076.19 L411.82,1076.09 L410.83,1076.00 L409.83,1075.90 L408.84,1075.81 L407.84,1075.71 L406.85,1075.61 L405.85,1075.51 L404.86,1075.40 L403.86,1075.29 L402.87,1075.18 L401.88,1075.06 L400.89,1074.94 L399.89,1074.82 L398.90,1074.70 L397.91,1074.57 L396.92,1074.45 L395.92,1074.33 L394.93,1074.21 L393.94,1074.09 L392.95,1073.96 L391.95,1073.84 L390.96,1073.73 L389.97,1073.61 L388.97,1073.49 L387.98,1073.38 L386.99,1073.26 L385.99,1073.15 L385.00,1073.04 L384.00,1072.93 L383.01,1072.82 L382.02,1072.71 L381.02,1072.60 L380.03,1072.49 L379.04,1072.38 L378.04,1072.26 L377.05,1072.15 L376.05,1072.04 L375.06,1071.93 L374.07,1071.82 L373.07,1071.70 L372.08,1071.58 L371.09,1071.45 L370.10,1071.31 L369.11,1071.16 L368.13,1071.00 L367.14,1070.83 L366.16,1070.66 L365.17,1070.49 L364.19,1070.31 L363.20,1070.14 L362.22,1069.96 L361.23,1069.79 L360.25,1069.61 L359.26,1069.44 L358.28,1069.27 L357.29,1069.12 L356.30,1068.97 L355.31,1068.83 L354.32,1068.71 L353.33,1068.59 L352.33,1068.49 L351.34,1068.40 L350.34,1068.32 L349.35,1068.25 L348.35,1068.19 L347.35,1068.15 L346.35,1068.13 L345.35,1068.11 L344.35,1068.11 L343.35,1068.10 L342.35,1068.10 L341.35,1068.10 L340.35,1068.10 L339.35,1068.10 L338.35,1068.10 L337.35,1068.10 L336.35,1068.11 L335.35,1068.12 L334.35,1068.14 L333.35,1068.16 L332.36,1068.19 L331.36,1068.23 L330.36,1068.27 L329.36,1068.31 L328.36,1068.36 L327.36,1068.41 L326.36,1068.46 L325.36,1068.50 L324.36,1068.55 L323.37,1068.60 L322.37,1068.66 L321.37,1068.71 L320.37,1068.78 L319.37,1068.85 L318.38,1068.93 L317.38,1069.02 L316.39,1069.12 L315.39,1069.22 L314.40,1069.33 L313.40,1069.44 L312.41,1069.54 L311.42,1069.65 L310.42,1069.76 L309.43,1069.87 L308.43,1069.97 L307.44,1070.08 L306.44,1070.17 L305.45,1070.26 L304.45,1070.33 L303.45,1070.39 L302.46,1070.44 L301.46,1070.48 L300.46,1070.52 L299.46,1070.55 L298.46,1070.58 L297.46,1070.61 L296.46,1070.64 L295.46,1070.67 L294.46,1070.71 L293.46,1070.74 L292.46,1070.77 L291.46,1070.81 L290.47,1070.85 L289.47,1070.90 L288.47,1070.96 L287.47,1071.02 L286.47,1071.08 L285.47,1071.15 L284.48,1071.22 L283.48,1071.29 L282.48,1071.37 L281.49,1071.44 L280.49,1071.52 L279.49,1071.59 L278.49,1071.67 L277.50,1071.75 L276.50,1071.83 L275.50,1071.90 L274.51,1071.98 L273.51,1072.06 L272.51,1072.14 L271.52,1072.23 L270.52,1072.31 L269.52,1072.39 L268.53,1072.47 L267.53,1072.55 L266.53,1072.63 L265.54,1072.71 L264.54,1072.79 L263.54,1072.87 L262.55,1072.95 L261.55,1073.03 L260.55,1073.11 L259.56,1073.19 L258.56,1073.27 L257.56,1073.35 L256.56,1073.43 L255.57,1073.50 L254.57,1073.58 L253.57,1073.65 L252.58,1073.72 L251.58,1073.79 L250.58,1073.87 L249.58,1073.93 L248.59,1074.00 L247.59,1074.07 L246.59,1074.13 L245.59,1074.20 L244.59,1074.26 L243.60,1074.32 L242.60,1074.38 L241.60,1074.43 L240.60,1074.49 L239.60,1074.54 L238.60,1074.59 L237.60,1074.64 L236.61,1074.69 L235.61,1074.73 L234.61,1074.77 L233.61,1074.81 L232.61,1074.85 L231.61,1074.88 L230.61,1074.91 L229.61,1074.94 L228.61,1074.97 L227.61,1074.99 L226.61,1075.01 L225.61,1075.03 L224.61,1075.04 L223.61,1075.05 L222.61,1075.06 L221.61,1075.06 L220.61,1075.06 L219.61,1075.06 L218.61,1075.05 L217.61,1075.04 L216.61,1075.03 L215.61,1075.01 L214.61,1074.99 L213.61,1074.97 L212.61,1074.94 L211.61,1074.91 L210.61,1074.87 L209.62,1074.83 L208.62,1074.79 L207.62,1074.74 L206.62,1074.68 L205.62,1074.63 L204.62,1074.56 L203.63,1074.50 L202.63,1074.42 L201.63,1074.35 L200.63,1074.26 L199.64,1074.17 L198.64,1074.08 L197.65,1073.97 L196.66,1073.86 L195.66,1073.74 L194.67,1073.61 L193.68,1073.48 L192.69,1073.33 L191.70,1073.18 L190.72,1073.01 L189.73,1072.84 L188.75,1072.65 L187.77,1072.45 L186.80,1072.24 L185.82,1072.02 L184.85,1071.78 L183.88,1071.53 L182.92,1071.27 L181.96,1071.00 L181.00,1070.71 L180.05,1070.41 L179.10,1070.09 L178.15,1069.77 L177.21,1069.43 L176.28,1069.07 L175.35,1068.70 L174.43,1068.32 L173.51,1067.93 L172.59,1067.52 L171.69,1067.10 L170.79,1066.67 L169.89,1066.23 L169.00,1065.77 L168.12,1065.30 L167.25,1064.82 L166.38,1064.32 L165.52,1063.82 L164.66,1063.30 L163.82,1062.76 L162.98,1062.22 L162.15,1061.67 L161.32,1061.10 L160.51,1060.52 L159.70,1059.93 L158.90,1059.33 L158.11,1058.72 L157.32,1058.11 L156.55,1057.48 L155.78,1056.84 L155.01,1056.20 L154.26,1055.54 L153.51,1054.88 L152.76,1054.21 L152.02,1053.54 L151.29,1052.86 L150.57,1052.17 L149.85,1051.47 L149.14,1050.77 L148.43,1050.07 L147.72,1049.36 L147.02,1048.64 L146.33,1047.92 L145.64,1047.20 L144.96,1046.47 L144.28,1045.74 L143.60,1045.00 L142.93,1044.26 L142.26,1043.52 L141.59,1042.77 L140.93,1042.02 L140.27,1041.27 L139.62,1040.51 L138.97,1039.75 L138.33,1038.98 L137.69,1038.21 L137.06,1037.44 L136.43,1036.67 L135.80,1035.89 L135.18,1035.10 L134.56,1034.31 L133.95,1033.52 L133.34,1032.73 L132.74,1031.93 L132.15,1031.13 L131.56,1030.32 L130.97,1029.51 L130.39,1028.70 L129.81,1027.88 L129.25,1027.06 L128.68,1026.23 L128.12,1025.40 L127.57,1024.57 L127.02,1023.73 L126.48,1022.89 L125.95,1022.04 L125.42,1021.20 L124.90,1020.34 L124.38,1019.49 L123.87,1018.63 L123.36,1017.77 L122.86,1016.90 L122.37,1016.03 L121.88,1015.16 L121.40,1014.28 L120.92,1013.41 L120.44,1012.53 L119.97,1011.64 L119.51,1010.76 L119.05,1009.87 L118.59,1008.98 L118.14,1008.09 L117.69,1007.19 L117.25,1006.30 L116.81,1005.40 L116.38,1004.50 L115.94,1003.60 L115.52,1002.69 L115.09,1001.79 L114.67,1000.88 L114.25,999.97 L113.84,999.06 L113.43,998.15 L113.02,997.24 L112.61,996.33 L112.21,995.41 L111.80,994.49 L111.40,993.58 L111.01,992.66 L110.61,991.74 L110.22,990.82 L109.83,989.90 L109.44,988.98 L109.05,988.06 L108.66,987.14 L108.28,986.22 L107.89,985.29 L107.51,984.37 L107.12,983.45 L106.74,982.52 L106.36,981.60 L105.98,980.67 L105.60,979.75 L105.22,978.82 L104.84,977.90 L104.46,976.97 L104.08,976.05 L103.69,975.12 L103.31,974.20 L102.93,973.28 L102.55,972.35 L102.16,971.43 L101.78,970.51 L101.39,969.58 L101.00,968.66 L100.61,967.74 L100.22,966.82 L99.83,965.90 L99.44,964.98 L99.04,964.06 L98.64,963.15 L98.24,962.23 L97.84,961.32 L97.43,960.40 L97.02,959.49 L96.61,958.58 L96.20,957.67 L95.78,956.76 L95.36,955.85 L94.94,954.94 L94.52,954.04 L94.09,953.14 L93.65,952.23 L93.22,951.33 L92.78,950.43 L92.34,949.54 L93.40,900.00 L94.00,880.00 Z" fill="#d1d3d4"/>
<path d="M94.63,890.30 L94.98,891.24 L95.33,892.17 L95.68,893.11 L96.03,894.05 L96.38,894.98 L96.72,895.92 L97.06,896.86 L97.40,897.80 L97.74,898.75 L98.07,899.69 L98.40,900.63 L98.73,901.58 L99.06,902.52 L99.38,903.47 L99.71,904.41 L100.03,905.36 L100.35,906.31 L100.67,907.26 L100.99,908.20 L101.30,909.15 L101.61,910.10 L101.93,911.05 L102.24,912.00 L102.55,912.95 L102.86,913.90 L103.17,914.86 L103.47,915.81 L103.78,916.76 L104.08,917.71 L104.39,918.66 L104.69,919.62 L105.00,920.57 L105.30,921.52 L105.60,922.48 L105.90,923.43 L106.20,924.38 L106.51,925.34 L106.81,926.29 L107.11,927.24 L107.41,928.20 L107.71,929.15 L108.02,930.10 L108.32,931.06 L108.62,932.01 L108.92,932.96 L109.23,933.91 L109.53,934.87 L109.84,935.82 L110.14,936.77 L110.45,937.72 L110.76,938.67 L111.07,939.63 L111.38,940.58 L111.69,941.53 L112.00,942.48 L112.31,943.43 L112.63,944.38 L112.94,945.32 L113.26,946.27 L113.58,947.22 L113.90,948.17 L114.23,949.11 L114.55,950.06 L114.88,951.00 L115.21,951.95 L115.54,952.89 L115.87,953.83 L116.21,954.78 L116.55,955.72 L116.89,956.66 L117.23,957.60 L117.58,958.54 L117.92,959.47 L118.28,960.41 L118.63,961.34 L118.99,962.28 L119.34,963.21 L119.71,964.14 L120.07,965.07 L120.44,966.00 L120.81,966.93 L121.19,967.86 L121.57,968.78 L121.95,969.71 L122.33,970.63 L122.72,971.55 L123.12,972.47 L123.51,973.39 L123.91,974.31 L124.32,975.22 L124.73,976.13 L125.14,977.05 L125.55,977.95 L125.97,978.86 L126.40,979.77 L126.83,980.67 L127.26,981.57 L127.69,982.47 L128.14,983.37 L128.58,984.26 L129.03,985.16 L129.49,986.05 L129.95,986.94 L130.41,987.82 L130.88,988.70 L131.35,989.59 L131.83,990.46 L132.31,991.34 L132.80,992.21 L133.30,993.08 L133.80,993.95 L134.30,994.81 L134.81,995.67 L135.32,996.53 L135.84,997.38 L136.37,998.23 L136.90,999.08 L137.43,999.93 L137.98,1000.77 L138.52,1001.60 L139.08,1002.43 L139.64,1003.26 L140.20,1004.09 L140.77,1004.91 L141.35,1005.73 L141.93,1006.54 L142.52,1007.35 L143.12,1008.15 L143.72,1008.95 L144.32,1009.74 L144.94,1010.53 L145.56,1011.32 L146.18,1012.10 L146.81,1012.87 L147.45,1013.64 L148.10,1014.41 L148.75,1015.16 L149.41,1015.92 L150.07,1016.66 L150.74,1017.41 L151.42,1018.14 L152.10,1018.87 L152.79,1019.59 L153.49,1020.31 L154.19,1021.02 L154.90,1021.72 L155.62,1022.42 L156.34,1023.11 L157.07,1023.79 L157.81,1024.47 L158.55,1025.14 L159.30,1025.80 L160.06,1026.46 L160.82,1027.10 L161.59,1027.74 L162.36,1028.37 L163.15,1029.00 L163.93,1029.61 L164.73,1030.22 L165.52,1030.82 L166.33,1031.41 L167.14,1032.00 L167.96,1032.58 L168.78,1033.15 L169.60,1033.71 L170.44,1034.26 L171.27,1034.81 L172.12,1035.35 L172.96,1035.88 L173.82,1036.40 L174.67,1036.92 L175.53,1037.42 L176.40,1037.92 L177.27,1038.41 L178.15,1038.90 L179.03,1039.37 L179.91,1039.84 L180.80,1040.30 L181.69,1040.75 L182.58,1041.20 L183.48,1041.63 L184.39,1042.06 L185.29,1042.48 L186.21,1042.89 L187.12,1043.30 L188.04,1043.69 L188.96,1044.08 L189.88,1044.46 L190.81,1044.83 L191.74,1045.19 L192.68,1045.55 L193.62,1045.90 L194.56,1046.23 L195.50,1046.56 L196.45,1046.89 L197.40,1047.20 L198.35,1047.51 L199.30,1047.80 L200.26,1048.09 L201.22,1048.37 L202.18,1048.64 L203.15,1048.91 L204.11,1049.16 L205.08,1049.41 L206.05,1049.64 L207.03,1049.87 L208.00,1050.09 L208.98,1050.30 L209.96,1050.51 L210.94,1050.70 L211.92,1050.88 L212.91,1051.06 L213.89,1051.23 L214.88,1051.38 L215.87,1051.53 L216.86,1051.67 L217.85,1051.80 L218.84,1051.92 L219.83,1052.03 L220.83,1052.13 L221.82,1052.23 L222.82,1052.31 L223.82,1052.39 L224.82,1052.45 L225.81,1052.51 L226.81,1052.56 L227.81,1052.60 L228.81,1052.64 L229.81,1052.66 L230.81,1052.68 L231.81,1052.69 L232.81,1052.70 L233.81,1052.69 L234.81,1052.69 L235.81,1052.67 L236.81,1052.65 L237.81,1052.62 L238.81,1052.59 L239.81,1052.55 L240.80,1052.50 L241.80,1052.45 L242.80,1052.40 L243.80,1052.34 L244.80,1052.27 L245.80,1052.20 L246.79,1052.13 L247.79,1052.05 L248.79,1051.97 L249.78,1051.88 L250.78,1051.80 L251.77,1051.70 L252.77,1051.61 L253.76,1051.51 L254.76,1051.41 L255.75,1051.31 L256.75,1051.21 L257.74,1051.10 L258.74,1050.99 L259.73,1050.88 L260.73,1050.77 L261.72,1050.66 L262.71,1050.54 L263.71,1050.43 L264.70,1050.32 L265.69,1050.20 L266.69,1050.08 L267.68,1049.97 L268.67,1049.85 L269.67,1049.74 L270.66,1049.62 L271.65,1049.51 L272.65,1049.40 L273.64,1049.28 L274.63,1049.17 L275.63,1049.06 L276.62,1048.96 L277.62,1048.85 L278.61,1048.75 L279.61,1048.65 L280.60,1048.55 L281.60,1048.45 L282.59,1048.36 L283.59,1048.27 L284.58,1048.18 L285.58,1048.10 L286.58,1048.01 L287.57,1047.93 L288.57,1047.85 L289.57,1047.77 L290.56,1047.68 L291.56,1047.59 L292.55,1047.50 L293.55,1047.40 L294.54,1047.30 L295.54,1047.20 L296.53,1047.11 L297.53,1047.01 L298.52,1046.91 L299.52,1046.81 L300.52,1046.71 L301.51,1046.61 L302.51,1046.52 L303.50,1046.42 L304.50,1046.33 L305.49,1046.25 L306.49,1046.17 L307.49,1046.09 L308.48,1046.01 L309.48,1045.93 L310.48,1045.86 L311.48,1045.78 L312.47,1045.71 L313.47,1045.63 L314.47,1045.56 L315.46,1045.48 L316.46,1045.40 L317.46,1045.32 L318.45,1045.23 L319.45,1045.14 L320.44,1045.04 L321.44,1044.94 L322.43,1044.84 L323.43,1044.73 L324.42,1044.62 L325.42,1044.51 L326.41,1044.40 L327.40,1044.29 L328.40,1044.18 L329.39,1044.07 L330.38,1043.96 L331.38,1043.85 L332.37,1043.75 L333.37,1043.64 L334.36,1043.53 L335.36,1043.42 L336.35,1043.32 L337.34,1043.21 L338.34,1043.11 L339.33,1043.00 L340.33,1042.90 L341.32,1042.80 L342.32,1042.71 L343.31,1042.64 L344.31,1042.59 L345.30,1042.56 L346.30,1042.56 L347.30,1042.58 L348.30,1042.62 L349.29,1042.67 L350.29,1042.73 L351.29,1042.80 L352.29,1042.87 L353.28,1042.95 L354.28,1043.05 L355.27,1043.16 L356.26,1043.28 L357.25,1043.42 L358.24,1043.57 L359.22,1043.73 L360.21,1043.89 L361.20,1044.05 L362.18,1044.21 L363.17,1044.37 L364.16,1044.54 L365.14,1044.70 L366.13,1044.86 L367.12,1045.03 L368.10,1045.20 L369.09,1045.37 L370.07,1045.54 L371.06,1045.71 L372.04,1045.88 L373.03,1046.05 L374.01,1046.22 L375.00,1046.40 L375.98,1046.57 L376.97,1046.74 L377.96,1046.90 L378.94,1047.06 L379.93,1047.22 L380.92,1047.38 L381.91,1047.53 L382.90,1047.68 L383.88,1047.82 L384.87,1047.97 L385.86,1048.11 L386.85,1048.25 L387.84,1048.40 L388.83,1048.54 L389.82,1048.68 L390.81,1048.81 L391.81,1048.94 L392.80,1049.07 L393.79,1049.19 L394.78,1049.31 L395.78,1049.42 L396.77,1049.54 L397.76,1049.65 L398.76,1049.76 L399.75,1049.87 L400.74,1049.98 L401.74,1050.09 L402.73,1050.20 L403.73,1050.30 L404.72,1050.40 L405.72,1050.49 L406.71,1050.57 L407.71,1050.65 L408.71,1050.73 L409.70,1050.81 L410.70,1050.89 L411.70,1050.97 L412.70,1051.04 L413.69,1051.12 L414.69,1051.20 L415.69,1051.28 L416.68,1051.36 L417.68,1051.44 L418.68,1051.53 L419.67,1051.62 L420.67,1051.71 L421.66,1051.82 L422.65,1051.94 L423.63,1052.09 L424.61,1052.27 L425.58,1052.47 L426.55,1052.69 L427.52,1052.91 L428.50,1053.11 L429.47,1053.29 L430.46,1053.43 L431.45,1053.53 L432.44,1053.62 L433.43,1053.68 L434.43,1053.73 L435.43,1053.78 L436.43,1053.83 L437.43,1053.87 L438.43,1053.91 L439.43,1053.94 L440.43,1053.96 L441.43,1053.98 L442.42,1053.99 L443.42,1054.00 L444.42,1054.00 L445.42,1054.00 L446.42,1054.00 L447.42,1054.00 L448.42,1054.00 L449.42,1054.00 L450.42,1054.00 L451.42,1053.99 L452.42,1053.98 L453.42,1053.97 L454.42,1053.95 L455.42,1053.93 L456.42,1053.89 L457.42,1053.86 L458.42,1053.82 L459.42,1053.78 L460.42,1053.74 L461.42,1053.70 L462.42,1053.66 L463.42,1053.62 L464.42,1053.58 L465.41,1053.53 L466.41,1053.47 L467.40,1053.39 L468.39,1053.28 L469.38,1053.15 L470.36,1052.98 L471.34,1052.79 L472.31,1052.58 L473.29,1052.35 L474.26,1052.12 L475.23,1051.89 L476.21,1051.66 L477.18,1051.43 L478.15,1051.21 L479.13,1050.99 L480.11,1050.78 L481.09,1050.58 L482.07,1050.38 L483.05,1050.18 L484.03,1049.98 L485.01,1049.79 L485.99,1049.60 L486.97,1049.40 L487.95,1049.21 L488.93,1049.02 L489.91,1048.83 L490.90,1048.65 L491.88,1048.47 L492.86,1048.29 L493.85,1048.11 L494.83,1047.93 L495.82,1047.76 L496.80,1047.58 L497.79,1047.41 L498.77,1047.24 L499.76,1047.09 L500.75,1046.93 L501.74,1046.78 L502.73,1046.64 L503.71,1046.49 L504.70,1046.35 L505.69,1046.19 L506.68,1046.03 L507.66,1045.87 L508.65,1045.70 L509.64,1045.54 L510.62,1045.37 L511.61,1045.20 L512.59,1045.03 L513.58,1044.86 L514.57,1044.69 L515.55,1044.53 L516.54,1044.36 L517.52,1044.20 L518.51,1044.05 L519.50,1043.90 L520.49,1043.75 L521.48,1043.61 L522.47,1043.48 L523.46,1043.35 L524.45,1043.22 L525.45,1043.09 L526.44,1042.96 L527.43,1042.83 L528.42,1042.70 L529.41,1042.57 L530.40,1042.44 L531.40,1042.32 L532.39,1042.19 L533.38,1042.07 L534.37,1041.94 L535.36,1041.82 L536.36,1041.70 L537.35,1041.59 L538.34,1041.47 L539.34,1041.36 L540.33,1041.24 L541.32,1041.12 L542.32,1041.01 L543.31,1040.89 L544.30,1040.78 L545.30,1040.66 L546.29,1040.55 L547.28,1040.44 L548.28,1040.33 L549.27,1040.22 L550.27,1040.11 L551.26,1040.01 L552.26,1039.90 L553.25,1039.80 L554.25,1039.70 L555.24,1039.60 L556.23,1039.50 L557.23,1039.39 L558.22,1039.29 L559.22,1039.19 L560.21,1039.10 L561.21,1039.01 L562.21,1038.93 L563.20,1038.86 L564.20,1038.80 L565.20,1038.75 L566.20,1038.71 L567.20,1038.68 L568.20,1038.65 L569.20,1038.62 L570.20,1038.59 L571.20,1038.56 L572.20,1038.53 L573.19,1038.50 L574.19,1038.47 L575.19,1038.44 L576.19,1038.41 L577.19,1038.38 L578.19,1038.34 L579.19,1038.30 L580.19,1038.26 L581.19,1038.21 L582.19,1038.16 L583.19,1038.10 L584.18,1038.04 L585.18,1037.98 L586.18,1037.92 L587.18,1037.86 L588.18,1037.80 L589.17,1037.73 L590.17,1037.67 L591.17,1037.61 L592.17,1037.55 L593.17,1037.49 L594.16,1037.43 L595.16,1037.37 L596.16,1037.30 L597.16,1037.24 L598.16,1037.18 L599.16,1037.12 L600.15,1037.06 L601.15,1037.00 L602.15,1036.93 L603.15,1036.87 L604.15,1036.81 L605.14,1036.75 L606.14,1036.69 L607.14,1036.63 L608.14,1036.57 L609.14,1036.50 L610.13,1036.44 L611.13,1036.38 L612.13,1036.32 L613.13,1036.26 L614.13,1036.20 L615.13,1036.13 L616.12,1036.07 L617.12,1036.01 L618.12,1035.95 L619.12,1035.89 L620.12,1035.83 L621.11,1035.77 L622.11,1035.70 L623.11,1035.64 L624.11,1035.58 L625.11,1035.52 L626.10,1035.46 L627.10,1035.40 L628.10,1035.33 L629.10,1035.27 L630.10,1035.21 L631.09,1035.15 L632.09,1035.09 L633.09,1035.03 L634.09,1034.97 L635.09,1034.91 L636.09,1034.84 L637.08,1034.79 L638.08,1034.73 L639.08,1034.67 L640.08,1034.62 L641.08,1034.56 L642.08,1034.51 L643.07,1034.46 L644.07,1034.40 L645.07,1034.35 L646.07,1034.30 L647.06,1034.25 L648.04,1034.20 L649.01,1034.15 L649.95,1034.10 L650.88,1034.05 L651.80,1034.00 L651.80,1034.00" fill="none" stroke="#636466" stroke-width="5.9" stroke-linejoin="round"/>
<circle cx="161.2" cy="1027.0" r="5.3" fill="#231f20"/>
<rect x="68.9" y="813.0" width="611.70" height="284.30" fill="none" stroke="#231f20" stroke-width="1.9"/>
<line x1="68.90" y1="1068.80" x2="88.40" y2="1068.80" stroke="#231f20" stroke-width="1.9"/>
<line x1="661.10" y1="1068.80" x2="680.60" y2="1068.80" stroke="#231f20" stroke-width="1.9"/>
<line x1="68.90" y1="1040.40" x2="88.40" y2="1040.40" stroke="#231f20" stroke-width="1.9"/>
<line x1="661.10" y1="1040.40" x2="680.60" y2="1040.40" stroke="#231f20" stroke-width="1.9"/>
<line x1="68.90" y1="1012.00" x2="88.40" y2="1012.00" stroke="#231f20" stroke-width="1.9"/>
<line x1="661.10" y1="1012.00" x2="680.60" y2="1012.00" stroke="#231f20" stroke-width="1.9"/>
<line x1="68.90" y1="983.60" x2="88.40" y2="983.60" stroke="#231f20" stroke-width="1.9"/>
<line x1="661.10" y1="983.60" x2="680.60" y2="983.60" stroke="#231f20" stroke-width="1.9"/>
<line x1="68.90" y1="955.20" x2="88.40" y2="955.20" stroke="#231f20" stroke-width="1.9"/>
<line x1="661.10" y1="955.20" x2="680.60" y2="955.20" stroke="#231f20" stroke-width="1.9"/>
<line x1="68.90" y1="926.80" x2="88.40" y2="926.80" stroke="#231f20" stroke-width="1.9"/>
<line x1="661.10" y1="926.80" x2="680.60" y2="926.80" stroke="#231f20" stroke-width="1.9"/>
<line x1="68.90" y1="898.40" x2="88.40" y2="898.40" stroke="#231f20" stroke-width="1.9"/>
<line x1="661.10" y1="898.40" x2="680.60" y2="898.40" stroke="#231f20" stroke-width="1.9"/>
<line x1="68.90" y1="870.00" x2="88.40" y2="870.00" stroke="#231f20" stroke-width="1.9"/>
<line x1="661.10" y1="870.00" x2="680.60" y2="870.00" stroke="#231f20" stroke-width="1.9"/>
<line x1="68.90" y1="841.60" x2="88.40" y2="841.60" stroke="#231f20" stroke-width="1.9"/>
<line x1="661.10" y1="841.60" x2="680.60" y2="841.60" stroke="#231f20" stroke-width="1.9"/>
<line x1="196.00" y1="1097.30" x2="196.00" y2="1082.30" stroke="#231f20" stroke-width="1.9"/>
<line x1="194.40" y1="813.00" x2="194.40" y2="828.00" stroke="#231f20" stroke-width="1.9"/>
<line x1="154.22" y1="1097.30" x2="154.22" y2="1089.30" stroke="#231f20" stroke-width="1.9"/>
<line x1="152.59" y1="813.00" x2="152.59" y2="821.00" stroke="#231f20" stroke-width="1.9"/>
<line x1="129.78" y1="1097.30" x2="129.78" y2="1089.30" stroke="#231f20" stroke-width="1.9"/>
<line x1="128.13" y1="813.00" x2="128.13" y2="821.00" stroke="#231f20" stroke-width="1.9"/>
<line x1="112.43" y1="1097.30" x2="112.43" y2="1089.30" stroke="#231f20" stroke-width="1.9"/>
<line x1="110.77" y1="813.00" x2="110.77" y2="821.00" stroke="#231f20" stroke-width="1.9"/>
<line x1="98.98" y1="1097.30" x2="98.98" y2="1089.30" stroke="#231f20" stroke-width="1.9"/>
<line x1="97.31" y1="813.00" x2="97.31" y2="821.00" stroke="#231f20" stroke-width="1.9"/>
<line x1="87.99" y1="1097.30" x2="87.99" y2="1089.30" stroke="#231f20" stroke-width="1.9"/>
<line x1="86.31" y1="813.00" x2="86.31" y2="821.00" stroke="#231f20" stroke-width="1.9"/>
<line x1="78.70" y1="1097.30" x2="78.70" y2="1089.30" stroke="#231f20" stroke-width="1.9"/>
<line x1="77.02" y1="813.00" x2="77.02" y2="821.00" stroke="#231f20" stroke-width="1.9"/>
<line x1="70.65" y1="1097.30" x2="70.65" y2="1089.30" stroke="#231f20" stroke-width="1.9"/>
<line x1="68.96" y1="813.00" x2="68.96" y2="821.00" stroke="#231f20" stroke-width="1.9"/>
<line x1="334.80" y1="1097.30" x2="334.80" y2="1082.30" stroke="#231f20" stroke-width="1.9"/>
<line x1="333.30" y1="813.00" x2="333.30" y2="828.00" stroke="#231f20" stroke-width="1.9"/>
<line x1="293.02" y1="1097.30" x2="293.02" y2="1089.30" stroke="#231f20" stroke-width="1.9"/>
<line x1="291.49" y1="813.00" x2="291.49" y2="821.00" stroke="#231f20" stroke-width="1.9"/>
<line x1="268.58" y1="1097.30" x2="268.58" y2="1089.30" stroke="#231f20" stroke-width="1.9"/>
<line x1="267.03" y1="813.00" x2="267.03" y2="821.00" stroke="#231f20" stroke-width="1.9"/>
<line x1="251.23" y1="1097.30" x2="251.23" y2="1089.30" stroke="#231f20" stroke-width="1.9"/>
<line x1="249.67" y1="813.00" x2="249.67" y2="821.00" stroke="#231f20" stroke-width="1.9"/>
<line x1="237.78" y1="1097.30" x2="237.78" y2="1089.30" stroke="#231f20" stroke-width="1.9"/>
<line x1="236.21" y1="813.00" x2="236.21" y2="821.00" stroke="#231f20" stroke-width="1.9"/>
<line x1="226.79" y1="1097.30" x2="226.79" y2="1089.30" stroke="#231f20" stroke-width="1.9"/>
<line x1="225.21" y1="813.00" x2="225.21" y2="821.00" stroke="#231f20" stroke-width="1.9"/>
<line x1="217.50" y1="1097.30" x2="217.50" y2="1089.30" stroke="#231f20" stroke-width="1.9"/>
<line x1="215.92" y1="813.00" x2="215.92" y2="821.00" stroke="#231f20" stroke-width="1.9"/>
<line x1="209.45" y1="1097.30" x2="209.45" y2="1089.30" stroke="#231f20" stroke-width="1.9"/>
<line x1="207.86" y1="813.00" x2="207.86" y2="821.00" stroke="#231f20" stroke-width="1.9"/>
<line x1="202.35" y1="1097.30" x2="202.35" y2="1089.30" stroke="#231f20" stroke-width="1.9"/>
<line x1="200.76" y1="813.00" x2="200.76" y2="821.00" stroke="#231f20" stroke-width="1.9"/>
<line x1="473.60" y1="1097.30" x2="473.60" y2="1082.30" stroke="#231f20" stroke-width="1.9"/>
<line x1="472.20" y1="813.00" x2="472.20" y2="828.00" stroke="#231f20" stroke-width="1.9"/>
<line x1="431.82" y1="1097.30" x2="431.82" y2="1089.30" stroke="#231f20" stroke-width="1.9"/>
<line x1="430.39" y1="813.00" x2="430.39" y2="821.00" stroke="#231f20" stroke-width="1.9"/>
<line x1="407.38" y1="1097.30" x2="407.38" y2="1089.30" stroke="#231f20" stroke-width="1.9"/>
<line x1="405.93" y1="813.00" x2="405.93" y2="821.00" stroke="#231f20" stroke-width="1.9"/>
<line x1="390.03" y1="1097.30" x2="390.03" y2="1089.30" stroke="#231f20" stroke-width="1.9"/>
<line x1="388.57" y1="813.00" x2="388.57" y2="821.00" stroke="#231f20" stroke-width="1.9"/>
<line x1="376.58" y1="1097.30" x2="376.58" y2="1089.30" stroke="#231f20" stroke-width="1.9"/>
<line x1="375.11" y1="813.00" x2="375.11" y2="821.00" stroke="#231f20" stroke-width="1.9"/>
<line x1="365.59" y1="1097.30" x2="365.59" y2="1089.30" stroke="#231f20" stroke-width="1.9"/>
<line x1="364.11" y1="813.00" x2="364.11" y2="821.00" stroke="#231f20" stroke-width="1.9"/>
<line x1="356.30" y1="1097.30" x2="356.30" y2="1089.30" stroke="#231f20" stroke-width="1.9"/>
<line x1="354.82" y1="813.00" x2="354.82" y2="821.00" stroke="#231f20" stroke-width="1.9"/>
<line x1="348.25" y1="1097.30" x2="348.25" y2="1089.30" stroke="#231f20" stroke-width="1.9"/>
<line x1="346.76" y1="813.00" x2="346.76" y2="821.00" stroke="#231f20" stroke-width="1.9"/>
<line x1="341.15" y1="1097.30" x2="341.15" y2="1089.30" stroke="#231f20" stroke-width="1.9"/>
<line x1="339.66" y1="813.00" x2="339.66" y2="821.00" stroke="#231f20" stroke-width="1.9"/>
<line x1="612.40" y1="1097.30" x2="612.40" y2="1082.30" stroke="#231f20" stroke-width="1.9"/>
<line x1="611.10" y1="813.00" x2="611.10" y2="828.00" stroke="#231f20" stroke-width="1.9"/>
<line x1="570.62" y1="1097.30" x2="570.62" y2="1089.30" stroke="#231f20" stroke-width="1.9"/>
<line x1="569.29" y1="813.00" x2="569.29" y2="821.00" stroke="#231f20" stroke-width="1.9"/>
<line x1="546.18" y1="1097.30" x2="546.18" y2="1089.30" stroke="#231f20" stroke-width="1.9"/>
<line x1="544.83" y1="813.00" x2="544.83" y2="821.00" stroke="#231f20" stroke-width="1.9"/>
<line x1="528.83" y1="1097.30" x2="528.83" y2="1089.30" stroke="#231f20" stroke-width="1.9"/>
<line x1="527.47" y1="813.00" x2="527.47" y2="821.00" stroke="#231f20" stroke-width="1.9"/>
<line x1="515.38" y1="1097.30" x2="515.38" y2="1089.30" stroke="#231f20" stroke-width="1.9"/>
<line x1="514.01" y1="813.00" x2="514.01" y2="821.00" stroke="#231f20" stroke-width="1.9"/>
<line x1="504.39" y1="1097.30" x2="504.39" y2="1089.30" stroke="#231f20" stroke-width="1.9"/>
<line x1="503.01" y1="813.00" x2="503.01" y2="821.00" stroke="#231f20" stroke-width="1.9"/>
<line x1="495.10" y1="1097.30" x2="495.10" y2="1089.30" stroke="#231f20" stroke-width="1.9"/>
<line x1="493.72" y1="813.00" x2="493.72" y2="821.00" stroke="#231f20" stroke-width="1.9"/>
<line x1="487.05" y1="1097.30" x2="487.05" y2="1089.30" stroke="#231f20" stroke-width="1.9"/>
<line x1="485.66" y1="813.00" x2="485.66" y2="821.00" stroke="#231f20" stroke-width="1.9"/>
<line x1="479.95" y1="1097.30" x2="479.95" y2="1089.30" stroke="#231f20" stroke-width="1.9"/>
<line x1="478.56" y1="813.00" x2="478.56" y2="821.00" stroke="#231f20" stroke-width="1.9"/>
<line x1="667.63" y1="1097.30" x2="667.63" y2="1089.30" stroke="#231f20" stroke-width="1.9"/>
<line x1="666.37" y1="813.00" x2="666.37" y2="821.00" stroke="#231f20" stroke-width="1.9"/>
<line x1="654.18" y1="1097.30" x2="654.18" y2="1089.30" stroke="#231f20" stroke-width="1.9"/>
<line x1="652.91" y1="813.00" x2="652.91" y2="821.00" stroke="#231f20" stroke-width="1.9"/>
<line x1="643.19" y1="1097.30" x2="643.19" y2="1089.30" stroke="#231f20" stroke-width="1.9"/>
<line x1="641.91" y1="813.00" x2="641.91" y2="821.00" stroke="#231f20" stroke-width="1.9"/>
<line x1="633.90" y1="1097.30" x2="633.90" y2="1089.30" stroke="#231f20" stroke-width="1.9"/>
<line x1="632.62" y1="813.00" x2="632.62" y2="821.00" stroke="#231f20" stroke-width="1.9"/>
<line x1="625.85" y1="1097.30" x2="625.85" y2="1089.30" stroke="#231f20" stroke-width="1.9"/>
<line x1="624.56" y1="813.00" x2="624.56" y2="821.00" stroke="#231f20" stroke-width="1.9"/>
<line x1="618.75" y1="1097.30" x2="618.75" y2="1089.30" stroke="#231f20" stroke-width="1.9"/>
<line x1="617.46" y1="813.00" x2="617.46" y2="821.00" stroke="#231f20" stroke-width="1.9"/>
<text x="60.50" y="1099.10" text-anchor="end" font-size="15.35" >0.0</text>
<text x="60.50" y="1071.48" text-anchor="end" font-size="15.35" >0.5</text>
<text x="60.50" y="1043.86" text-anchor="end" font-size="15.35" >1.0</text>
<text x="60.50" y="1016.24" text-anchor="end" font-size="15.35" >1.5</text>
<text x="60.50" y="988.62" text-anchor="end" font-size="15.35" >2.0</text>
<text x="60.50" y="961.00" text-anchor="end" font-size="15.35" >2.5</text>
<text x="60.50" y="933.38" text-anchor="end" font-size="15.35" >3.0</text>
<text x="60.50" y="905.76" text-anchor="end" font-size="15.35" >3.5</text>
<text x="60.50" y="878.14" text-anchor="end" font-size="15.35" >4.0</text>
<text x="60.50" y="850.52" text-anchor="end" font-size="15.35" >4.5</text>
<text x="60.50" y="822.90" text-anchor="end" font-size="15.35" >5.0</text>
<text x="182.50" y="1118.4" font-size="15.35">10<tspan font-size="10.5" dy="-6.5">−2</tspan></text>
<text x="321.10" y="1118.4" font-size="15.35">10<tspan font-size="10.5" dy="-6.5">−3</tspan></text>
<text x="459.80" y="1118.4" font-size="15.35">10<tspan font-size="10.5" dy="-6.5">−4</tspan></text>
<text x="598.90" y="1118.4" font-size="15.35">10<tspan font-size="10.5" dy="-6.5">−5</tspan></text>
<text x="282.9" y="1142.3" font-size="15.35">Regularization parameter <tspan font-style="italic" font-family="Liberation Serif, serif" font-size="15.2" dx="0.9">λ</tspan></text>
<text transform="translate(28.3,955) rotate(-90)" text-anchor="middle" font-size="15.35">Cross-validation error</text>
<text x="258.00" y="932.90" text-anchor="middle" font-size="15.35" >Most compact model</text>
<text x="258.00" y="950.50" text-anchor="middle" font-size="15.35" >within one SEM of</text>
<text x="260.40" y="968.30" text-anchor="middle" font-size="15.35" >minimum</text>
<line x1="215.20" y1="966.20" x2="190.50" y2="1001.50" stroke="#231f20" stroke-width="2.0"/>
<polygon points="181,1011.8 183.6,993.4 189.8,1002.2 197.6,1004.5" fill="#231f20"/>
</svg>
</body></html>
